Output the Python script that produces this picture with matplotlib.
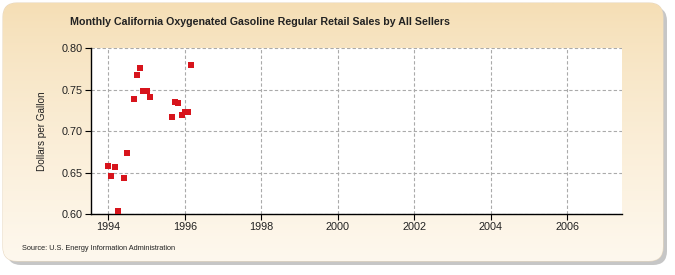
import numpy as np
import matplotlib.pyplot as plt
from matplotlib.patches import FancyBboxPatch

# monthly points (year, month) and price in dollars per gallon
years = [1994, 1994, 1994, 1994, 1994, 1994, 1994, 1994, 1994, 1994,
         1995, 1995, 1995, 1995, 1995, 1995, 1996, 1996, 1996]
months = [1, 2, 3, 4, 6, 7, 9, 10, 11, 12,
          1, 2, 9, 10, 11, 12, 1, 2, 3]
prices = [0.658, 0.646, 0.657, 0.604, 0.643, 0.674, 0.739, 0.768, 0.776, 0.748,
          0.748, 0.741, 0.717, 0.735, 0.734, 0.720, 0.723, 0.723, 0.780]
x_ticks = [1994, 1996, 1998, 2000, 2002, 2004, 2006]
y_ticks = [0.60, 0.65, 0.70, 0.75, 0.80]

dates = np.array(years) + (np.array(months) - 1) / 12.0
FONT = ['Liberation Sans', 'DejaVu Sans']

fig = plt.figure(figsize=(6.75, 2.75), dpi=100)
W, H = 675, 275

# background: shadow + rounded gradient box
bg = fig.add_axes([0, 0, 1, 1])
bg.set_xlim(0, W)
bg.set_ylim(H, 0)
bg.axis('off')
shadow = FancyBboxPatch((7, 7), 660, 258, boxstyle='round,pad=0,rounding_size=14',
                        fc='#a0a0a0', ec='none', alpha=0.6)
bg.add_patch(shadow)
box = FancyBboxPatch((3, 3), 660, 258, boxstyle='round,pad=0,rounding_size=14',
                     fc='none', ec='#e8d8c0', lw=0.8)
bg.add_patch(box)
grad = np.linspace(0, 1, 256).reshape(-1, 1)
top = np.array([245, 222, 180]) / 255
bot = np.array([254, 248, 238]) / 255
img = top + (bot - top) * grad[..., None] ** 0.8
im = bg.imshow(img.reshape(256, 1, 3), extent=(3, 663, 261, 3), aspect='auto', zorder=1)
im.set_clip_path(box)

bg.text(260, 22, 'Monthly California Oxygenated Gasoline Regular Retail Sales by All Sellers',
        ha='center', va='center', fontsize=7.7, fontweight='bold',
        family=FONT, color='#222222')
bg.text(22, 249, 'Source: U.S. Energy Information Administration', ha='left', va='center',
        fontsize=5.3, family=FONT, color='#222222')

# plot area
ax = fig.add_axes([90.7 / W, 1 - 214 / H, (621.7 - 90.7) / W, (214 - 48.3) / H])
ax.set_facecolor('white')
ax.scatter(dates, prices, marker='s', s=13, color='#d7141c', zorder=3, linewidths=0)
ax.set_xlim(1993.54, 2007.42)
ax.set_ylim(0.60, 0.80)
ax.set_xticks(x_ticks)
ax.set_yticks(y_ticks)
ax.set_yticklabels(['%.2f' % v for v in y_ticks])
ax.grid(True, color='#aaaaaa', linestyle=(0, (3, 2)), linewidth=0.8)
ax.set_axisbelow(True)
for s in ['top', 'right']:
    ax.spines[s].set_visible(False)
for s in ['left', 'bottom']:
    ax.spines[s].set_color('black')
    ax.spines[s].set_linewidth(1)
ax.tick_params(length=4, width=0.8, labelsize=7.8, colors='black', pad=2)
for lab in ax.get_xticklabels() + ax.get_yticklabels():
    lab.set_family(FONT)
    lab.set_color('#222222')
ax.set_ylabel('Dollars per Gallon', fontsize=7.2, family=FONT,
              color='#222222', labelpad=10)

fig.savefig('out.png', dpi=100)
